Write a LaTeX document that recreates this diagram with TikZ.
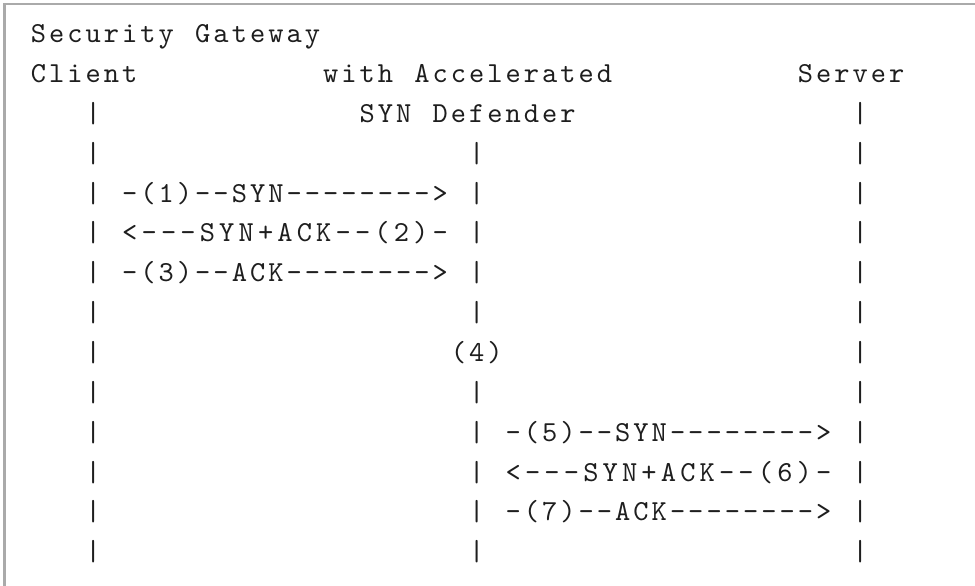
\documentclass[tikz,border=0pt]{standalone}
\usepackage{fontspec}
\setmonofont{lmmono10-regular}[Extension=.otf, LetterSpace=10.47]
\definecolor{framegray}{RGB}{170,170,170}
\definecolor{inkcol}{RGB}{30,30,30}
\newcommand\colw{18.26}
\newcommand\rowh{39.85}
\newcommand\origx{29.4}
\newcommand\origy{42.7}
\newcommand\glyphsh{1.5}
\newcommand\asciitok[4]{\node[txt] (#1) at ({\origx+#2*\colw+\glyphsh},{-(\origy+#3*\rowh)}) {#4};}
\newcommand\asciiwide[4]{\node[txt, txtwide] (#1) at ({\origx+#2*\colw+\glyphsh},{-(\origy+#3*\rowh)}) {#4};}
\tikzset{
  txt/.style={font=\ttfamily\fontsize{29}{35}\selectfont, text=inkcol, inner sep=0pt, outer sep=0pt, anchor=base west},
  txtwide/.style={font=\ttfamily\fontsize{29}{35}\selectfont\addfontfeature{LetterSpace=14.4}},
  frameline/.style={draw=framegray, line width=2.5pt}
}
\begin{document}
\begin{tikzpicture}[x=1pt,y=1pt]
\fill[white] (0,0) rectangle (975,-586);
\useasboundingbox (0,0) rectangle (975,-586);
\coordinate (fbl) at (4.5,-590);
\coordinate (ftl) at (4.5,-3.8);
\coordinate (ftr) at (980,-3.8);
\draw[frameline] (fbl) -- (ftl) -- (ftr);
% row 0
\asciitok{sec}{0}{0}{Security}
\asciitok{gw}{9}{0}{Gateway}
% row 1
\asciitok{cli}{0}{1}{Client}
\asciitok{with}{16}{1}{with}
\asciitok{acc}{21}{1}{Accelerated}
\asciitok{srv}{42}{1}{Server}
% row 2
\asciitok{ca2}{3}{2}{|}
\asciitok{syn}{18}{2}{SYN}
\asciitok{def}{22}{2}{Defender}
\asciitok{sa2}{45}{2}{|}
% rows with three pipes
\foreach \r in {3,4,5,6,7,9,10,11,12,13}{
  \asciitok{ca\r}{3}{\r}{|}
  \asciitok{sa\r}{45}{\r}{|}
}
\foreach \r in {3,4,5,6,7,9,10,11,12,13}{
  \asciitok{ga\r}{24}{\r}{|}
}
\asciitok{ca8}{3}{8}{|}
\asciitok{sa8}{45}{8}{|}
\asciitok{m4}{23}{8}{(4)}
% messages client <-> gateway
\asciitok{m1}{5}{4}{-(1)--SYN-------->}
\asciiwide{m2}{5}{5}{<---SYN+ACK--(2)-}
\asciitok{m3}{5}{6}{-(3)--ACK-------->}
% messages gateway <-> server
\asciitok{m5}{26}{10}{-(5)--SYN-------->}
\asciiwide{m6}{26}{11}{<---SYN+ACK--(6)-}
\asciitok{m7}{26}{12}{-(7)--ACK-------->}
\end{tikzpicture}
\end{document}
